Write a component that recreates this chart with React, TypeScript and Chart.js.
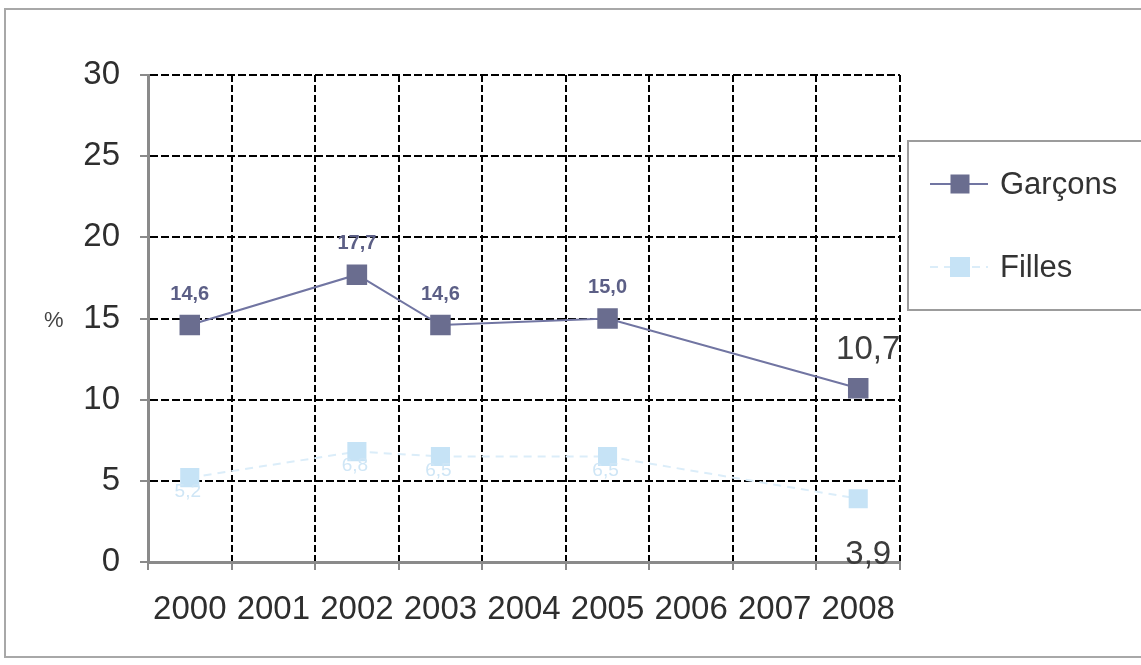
import React, { useEffect, useRef } from "react";
import { Chart, registerables } from "chart.js";

Chart.register(...registerables);

// Years on the category axis
const years = ["2000", "2001", "2002", "2003", "2004", "2005", "2006", "2007", "2008"];
// Percentages per year (null = no survey that year)
const garcons: (number | null)[] = [14.6, null, 17.7, 14.6, null, 15.0, null, null, 10.7];
const filles: (number | null)[] = [5.2, null, 6.8, 6.5, null, 6.5, null, null, 3.9];
const seriesNames = ["Garçons", "Filles"];

const FONT = "'Liberation Sans', Arial, sans-serif";

const fmt = (v: number) => v.toFixed(1).replace(".", ",");

// Value labels next to each point
const valueLabels = {
  id: "valueLabels",
  afterDatasetsDraw(chart: any) {
    const ctx = chart.ctx;
    chart.data.datasets.forEach((ds: any, di: number) => {
      const meta = chart.getDatasetMeta(di);
      const lastIdx = ds.data.length - 1;
      meta.data.forEach((pt: any, i: number) => {
        const v = ds.data[i];
        if (v == null) return;
        ctx.save();
        ctx.textAlign = "center";
        ctx.textBaseline = "middle";
        if (i === lastIdx) {
          ctx.font = `33px ${FONT}`;
          ctx.fillStyle = "#3c3c3c";
          const dy = di === 0 ? -38 : 56;
          ctx.fillText(fmt(v), pt.x + 10, pt.y + dy);
        } else if (di === 0) {
          ctx.font = `bold 20px ${FONT}`;
          ctx.fillStyle = "#5c5f86";
          ctx.fillText(fmt(v), pt.x, pt.y - 31);
        } else {
          ctx.font = `19px ${FONT}`;
          ctx.fillStyle = "#cfe6f6";
          ctx.fillText(fmt(v), pt.x - 2, pt.y + 14);
        }
        ctx.restore();
      });
    });
  },
};

// "%" unit marker beside the 15 tick, and the boxed legend on the right
const extras = {
  id: "extras",
  afterDraw(chart: any) {
    const ctx = chart.ctx;
    const y = chart.scales.y;
    ctx.save();
    ctx.font = `22px ${FONT}`;
    ctx.fillStyle = "#444";
    ctx.textAlign = "left";
    ctx.textBaseline = "middle";
    ctx.fillText("%", 44, y.getPixelForValue(15) + 2);

    // legend box
    ctx.strokeStyle = "#9c9c9c";
    ctx.lineWidth = 2;
    ctx.strokeRect(908, 141, 260, 169);
    const rows = [184, 267];
    chart.data.datasets.forEach((ds: any, di: number) => {
      const ry = rows[di];
      ctx.strokeStyle = ds.borderColor;
      ctx.lineWidth = 2;
      ctx.setLineDash(ds.borderDash || []);
      ctx.beginPath();
      ctx.moveTo(930, ry);
      ctx.lineTo(988, ry);
      ctx.stroke();
      ctx.setLineDash([]);
      ctx.fillStyle = ds.pointBackgroundColor;
      const s = di === 0 ? 19 : 20;
      ctx.fillRect(960 - s / 2, ry - s / 2, s, s);
      ctx.font = `31px ${FONT}`;
      ctx.fillStyle = "#333";
      ctx.textBaseline = "middle";
      ctx.fillText(ds.label, 1000, ry + 1);
    });
    ctx.restore();
  },
};

export default function App() {
  const canvasRef = useRef<HTMLCanvasElement | null>(null);

  useEffect(() => {
    if (!canvasRef.current) return;
    const chart = new Chart(canvasRef.current, {
      type: "line",
      data: {
        labels: years,
        datasets: [
          {
            label: seriesNames[0],
            data: garcons,
            borderColor: "#7175a2",
            borderWidth: 2,
            pointStyle: "rect",
            pointRadius: 14.5,
            pointBackgroundColor: "#6a6d8f",
            pointBorderWidth: 0,
            spanGaps: true,
            tension: 0,
          },
          {
            label: seriesNames[1],
            data: filles,
            borderColor: "#dbedf9",
            borderWidth: 2,
            borderDash: [8, 6],
            pointStyle: "rect",
            pointRadius: 13.5,
            pointBackgroundColor: "#c6e3f6",
            pointBorderWidth: 0,
            spanGaps: true,
            tension: 0,
          },
        ],
      },
      options: {
        animation: false,
        responsive: false,
        layout: { padding: { left: 0, top: 75, right: 241, bottom: 0 } },
        plugins: {
          legend: { display: false },
          tooltip: { enabled: false },
        },
        scales: {
          x: {
            offset: true,
            afterFit: (s: any) => {
              s.height = 103;
            },
            grid: {
              offset: true,
              color: "#000",
              lineWidth: 2,
              tickColor: "#8a8a8a",
              tickWidth: 2,
              tickLength: 8,
            },
            border: { color: "#8a8a8a", width: 3, dash: [7, 3] },
            ticks: {
              color: "#2e2e2e",
              font: { family: FONT, size: 33 },
              padding: 20,
              maxRotation: 0,
              autoSkip: false,
            },
          },
          y: {
            min: 0,
            max: 30,
            afterFit: (s: any) => {
              s.width = 148;
            },
            grid: {
              color: "#000",
              lineWidth: 2,
              tickColor: "#8a8a8a",
              tickWidth: 2,
              tickLength: 8,
            },
            border: { color: "#8a8a8a", width: 3, dash: [8, 3] },
            ticks: {
              stepSize: 5,
              color: "#2e2e2e",
              font: { family: FONT, size: 33 },
              padding: 20,
            },
          },
        },
      },
      plugins: [valueLabels, extras],
    });
    return () => chart.destroy();
  }, []);

  return (
    <div
      style={{
        position: "fixed",
        left: 0,
        top: 0,
        width: 1141,
        height: 665,
        background: "#fff",
        overflow: "hidden",
      }}
    >
      <div
        style={{
          position: "absolute",
          left: 4,
          top: 8,
          width: 1150,
          height: 650,
          border: "2px solid #a8a8a8",
          boxSizing: "border-box",
        }}
      />
      <canvas
        ref={canvasRef}
        width={1141}
        height={665}
        style={{ position: "absolute", left: 0, top: 0 }}
      />
    </div>
  );
}
